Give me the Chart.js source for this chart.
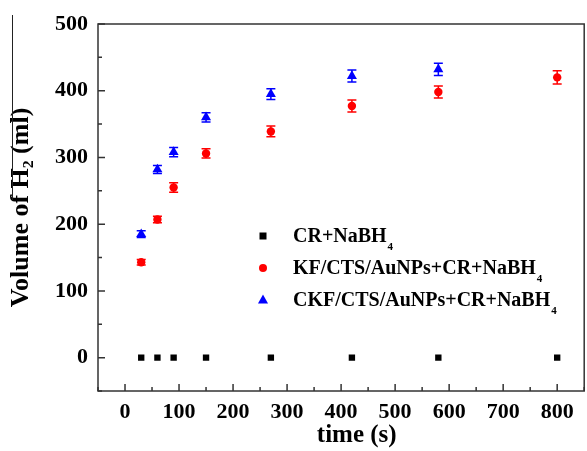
<!DOCTYPE html>
<html>
<head>
<meta charset="utf-8">
<script src="https://cdn.jsdelivr.net/npm/chart.js@4.4.1/dist/chart.umd.min.js"></script>
<style>
  html, body { margin: 0; padding: 0; background: #fff; overflow: hidden; }
  #wrap { position: relative; width: 587px; height: 451px; overflow: hidden; }
  #chart { position: absolute; left: 0; top: 0; }
  #stray { position: absolute; left: 12px; top: 15px; width: 1px; height: 185px; background: #222; }
</style>
</head>
<body>
<div id="wrap">
  <canvas id="chart" width="590" height="451"></canvas>
  <div id="stray"></div>
</div>
<script>
// data
const times = [30, 60, 90, 150, 270, 420, 580, 800];
const crVol = [0, 0, 0, 0, 0, 0, 0, 0];
const kfVol = [143, 207, 255, 306, 339, 377, 398, 420];
const kfErr = [4, 5, 7, 7, 8, 9, 9, 10];
const ckfTimes = [30, 60, 90, 150, 270, 420, 580];
const ckfVol = [185, 282, 308, 360, 395, 422, 432];
const ckfErr = [5, 6, 7, 7, 8, 9, 9];

const xTicks = [0, 100, 200, 300, 400, 500, 600, 700, 800];
const yTicks = [0, 100, 200, 300, 400, 500];
const labels = ["CR+NaBH", "KF/CTS/AuNPs+CR+NaBH", "CKF/CTS/AuNPs+CR+NaBH"];

const FONT = "'Liberation Serif', 'Times New Roman', serif";

function pts(xs, ys) {
    return xs.map((x, i) => ({ x: x, y: ys[i] }));
}

// error bars, drawn under the markers
const errorBars = {
    id: 'errorBars',
    beforeDatasetsDraw(chart) {
        const ctx = chart.ctx;
        const xs = chart.scales.x, ys = chart.scales.y;
        chart.data.datasets.forEach(ds => {
            if (!ds.errors) return;
            ctx.save();
            ctx.strokeStyle = ds.borderColor;
            ctx.lineWidth = 1.5;
            ds.data.forEach((p, i) => {
                const e = ds.errors[i];
                const px = xs.getPixelForValue(p.x);
                const top = ys.getPixelForValue(p.y + e);
                const bot = ys.getPixelForValue(p.y - e);
                ctx.beginPath();
                ctx.moveTo(px, top); ctx.lineTo(px, bot);
                ctx.moveTo(px - 4.5, top); ctx.lineTo(px + 4.5, top);
                ctx.moveTo(px - 4.5, bot); ctx.lineTo(px + 4.5, bot);
                ctx.stroke();
            });
            ctx.restore();
        });
    }
};

// frame and inward ticks
const frame = {
    id: 'frame',
    afterDraw(chart) {
        const ctx = chart.ctx;
        const a = chart.chartArea;
        const xs = chart.scales.x, ys = chart.scales.y;
        ctx.save();
        ctx.strokeStyle = '#333';
        ctx.lineWidth = 1.5;
        ctx.strokeRect(a.left, a.top, a.right - a.left, a.bottom - a.top);
        ctx.beginPath();
        for (let v = -50; v <= 850; v += 50) {
            const px = xs.getPixelForValue(v);
            const len = v % 100 === 0 ? 7 : 4;
            ctx.moveTo(px, a.bottom); ctx.lineTo(px, a.bottom - len);
        }
        for (let v = -50; v <= 500; v += 50) {
            const py = ys.getPixelForValue(v);
            const len = v % 100 === 0 ? 7 : 4;
            ctx.moveTo(a.left, py); ctx.lineTo(a.left + len, py);
        }
        ctx.stroke();
        ctx.restore();
    }
};

// legend inside the plot
const legendBox = {
    id: 'legendBox',
    afterDraw(chart) {
        const ctx = chart.ctx;
        const mx = 263, tx = 293;
        const rows = [237, 269, 301];
        ctx.save();
        // markers
        ctx.fillStyle = '#000';
        ctx.fillRect(mx - 3.5, rows[0] - 4.5, 7, 7);
        ctx.fillStyle = '#ff0000';
        ctx.beginPath(); ctx.arc(mx, rows[1] - 1, 4, 0, Math.PI * 2); ctx.fill();
        ctx.fillStyle = '#0000ff';
        ctx.beginPath();
        ctx.moveTo(mx, rows[2] - 6.5);
        ctx.lineTo(mx + 5, rows[2] + 2.5);
        ctx.lineTo(mx - 5, rows[2] + 2.5);
        ctx.closePath(); ctx.fill();
        // text
        ctx.fillStyle = '#000';
        ctx.textBaseline = 'middle';
        labels.forEach((t, i) => {
            ctx.font = 'bold 20px ' + FONT;
            ctx.fillText(t, tx, rows[i]);
            const w = ctx.measureText(t).width;
            ctx.font = 'bold 11px ' + FONT;
            ctx.fillText('4', tx + w + 1, rows[i] + 10);
        });
        ctx.restore();
    }
};

const ctx = document.getElementById("chart").getContext("2d");
new Chart(ctx, {
    type: 'scatter',
    data: {
        datasets: [{
            label: 'CR+NaBH4',
            data: pts(times, crVol),
            pointStyle: 'rect',
            pointRadius: 4.5,
            backgroundColor: '#000',
            borderColor: '#000',
            borderWidth: 0
        }, {
            label: 'KF/CTS/AuNPs+CR+NaBH4',
            data: pts(times, kfVol),
            errors: kfErr,
            pointStyle: 'circle',
            pointRadius: 4.2,
            backgroundColor: '#ff0000',
            borderColor: '#ff0000',
            borderWidth: 0
        }, {
            label: 'CKF/CTS/AuNPs+CR+NaBH4',
            data: pts(ckfTimes, ckfVol),
            errors: ckfErr,
            pointStyle: 'triangle',
            pointRadius: 5.8,
            backgroundColor: '#0000ff',
            borderColor: '#0000ff',
            borderWidth: 0
        }]
    },
    options: {
        responsive: false,
        animation: false,
        layout: { padding: { top: 24, left: 0, right: 0, bottom: 0 } },
        plugins: {
            legend: { display: false },
            tooltip: { enabled: false }
        },
        scales: {
            x: {
                type: 'linear',
                min: -50,
                max: 850,
                afterBuildTicks: s => { s.ticks = xTicks.map(v => ({ value: v })); },
                afterFit: s => { s.height = 60; },
                grid: { display: false, drawTicks: false },
                border: { display: false },
                ticks: {
                    padding: 8,
                    color: '#000',
                    maxRotation: 0,
                    font: { family: FONT, size: 22, weight: 'bold' }
                },
                title: {
                    display: true,
                    text: '     time (s)',
                    color: '#000',
                    padding: 0,
                    font: { family: FONT, size: 25, weight: 'bold' }
                }
            },
            y: {
                min: -50,
                max: 500,
                afterBuildTicks: s => { s.ticks = yTicks.map(v => ({ value: v })); },
                afterFit: s => { s.width = 98; },
                grid: { display: false, drawTicks: false },
                border: { display: false },
                ticks: {
                    padding: 10,
                    color: '#000',
                    font: { family: FONT, size: 22, weight: 'bold' }
                },
                title: {
                    display: true,
                    text: 'Volume of H\u2082 (ml)',
                    color: '#000',
                    padding: { top: 6, bottom: 0 },
                    font: { family: FONT, size: 26, weight: 'bold' }
                }
            }
        }
    },
    plugins: [errorBars, frame, legendBox]
});
</script>
</body>
</html>
